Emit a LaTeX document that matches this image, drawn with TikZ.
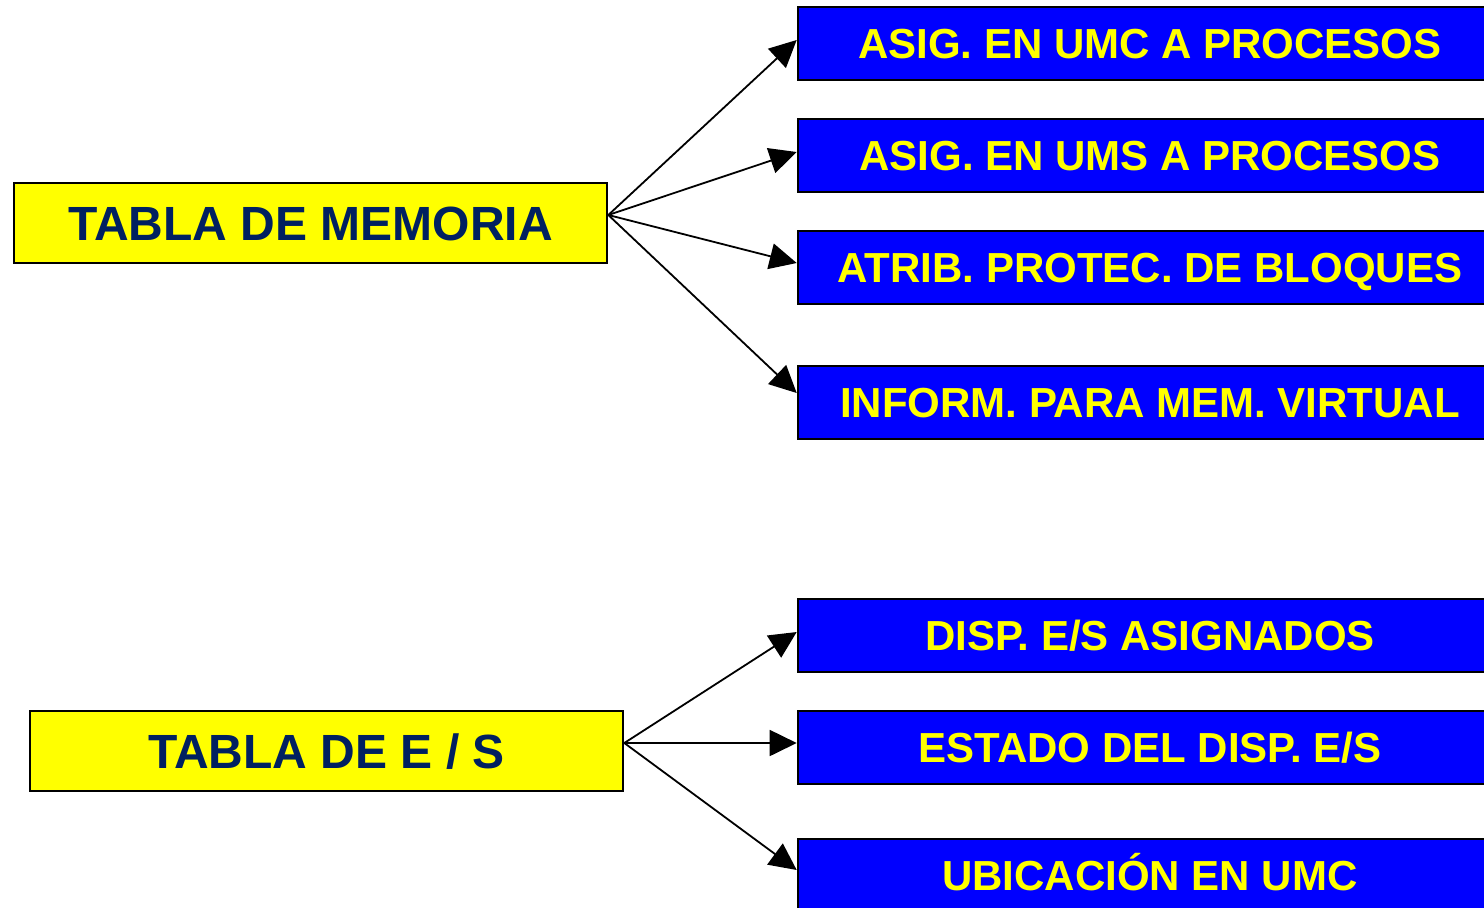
\documentclass[tikz,border=0pt]{standalone}
\usepackage{fontspec}
\setmainfont{Liberation Sans}
\usetikzlibrary{arrows.meta}
\definecolor{navytext}{RGB}{0,32,96}
\definecolor{amarillo}{RGB}{255,255,0}

\begin{document}
\begin{tikzpicture}[x=0.5pt, y=-0.5pt,
		tabla/.style = {draw, line width=1.3pt, fill=amarillo, text=navytext,
			font=\bfseries\fontsize{24}{26}\selectfont, minimum width=296.5pt,
			minimum height=40pt, text height=17.3pt, text depth=0pt, inner sep=0pt},
		dato/.style = {draw, line width=1.3pt, fill=blue, text=amarillo,
			font=\bfseries\fontsize{21}{23}\selectfont, minimum width=352pt,
			minimum height=36.5pt, text height=15.1pt, text depth=0pt, inner sep=0pt},
		flecha/.style = {line width=0.9pt, -{Triangle[length=13.5pt,width=13pt]}}]
	\useasboundingbox (0,0) rectangle (1484,907);
	\clip (0,0) rectangle (1484,907);
	\node[tabla] (mem) at (310.5,223) {TABLA DE MEMORIA};
	\node[tabla] (es) at (326.5,751) {TABLA DE E / S};
	\node[dato] (umc) at (1150,43.5) {ASIG. EN UMC A PROCESOS};
	\node[dato] (ums) at (1150,155.5) {ASIG. EN UMS A PROCESOS};
	\node[dato] (prot) at (1150,267.5) {ATRIB. PROTEC. DE BLOQUES};
	\node[dato] (virt) at (1150,402.5) {INFORM. PARA MEM. VIRTUAL};
	\node[dato] (disp) at (1150,635.5) {DISP. E/S ASIGNADOS};
	\node[dato] (estado) at (1150,747.5) {ESTADO DEL DISP. E/S};
	\node[dato] (ubic) at (1150,875.5) {UBICACIÓN EN UMC};
	% memoria
	\draw[flecha] ([yshift=4pt]mem.east) -- ([yshift=1.75pt]umc.west);
	\draw[flecha] ([yshift=4pt]mem.east) -- ([yshift=1.75pt]ums.west);
	\draw[flecha] ([yshift=4pt]mem.east) -- ([yshift=2.25pt]prot.west);
	\draw[flecha] ([yshift=4pt]mem.east) -- ([yshift=4.75pt]virt.west);
	% e/s
	\draw[flecha] ([yshift=4pt]es.east) -- ([yshift=1.75pt]disp.west);
	\draw[flecha] ([yshift=4pt]es.east) -- ([yshift=2.25pt]estado.west);
	\draw[flecha] ([yshift=4pt]es.east) -- ([yshift=2.75pt]ubic.west);
\end{tikzpicture}
\end{document}
